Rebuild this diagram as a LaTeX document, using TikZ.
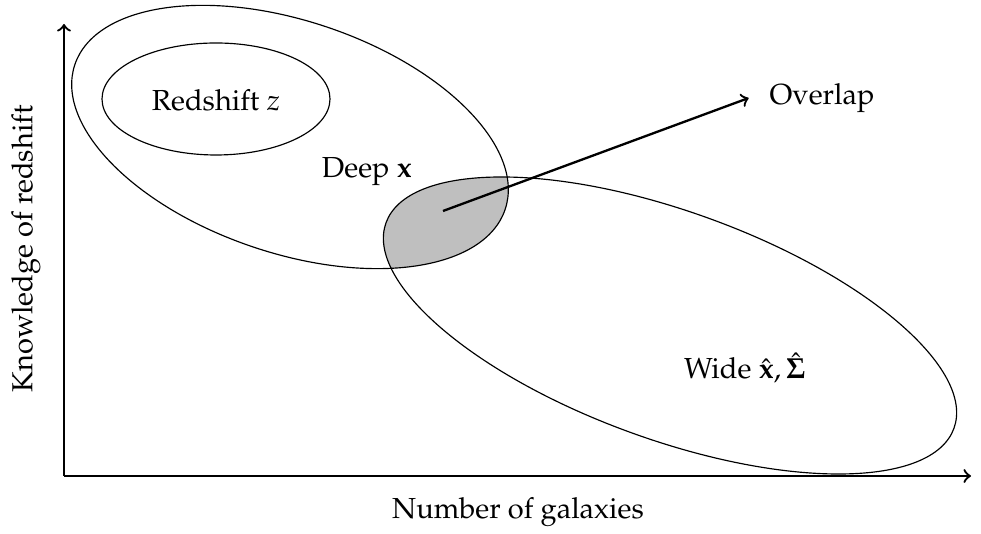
\documentclass[tikz,border=0pt]{standalone}
\usepackage{amsmath}
\usepackage[T1]{fontenc}
\usepackage{mathpazo}
\begin{document}
\begin{tikzpicture}[x=0.345pt,y=0.345pt,
  blob/.style={draw,line width=0.4pt},
  axis/.style={->,thick},
  lbl/.style={inner sep=0pt,font=\normalsize}]
\useasboundingbox (0,0) rectangle (981,534);
% overlap fill
\begin{scope}
  \clip[rotate around={-18.6:(290,397)}] (290,397) ellipse [x radius=227,y radius=116];
  \fill[gray!50,rotate around={-19.9:(670,208.5)}] (670,208.5) ellipse [x radius=302,y radius=114];
\end{scope}
% ellipses
\draw[blob] (216,435) ellipse [x radius=114,y radius=56];
\draw[blob,rotate around={-18.6:(290,397)}] (290,397) ellipse [x radius=227,y radius=116];
\draw[blob,rotate around={-19.9:(670,208.5)}] (670,208.5) ellipse [x radius=302,y radius=114];
% axes
\coordinate (O) at (64,58);
\coordinate (Ytop) at (64,510);
\coordinate (Xend) at (971,58);
\draw[axis] (O) -- (Ytop);
\draw[axis] (O) -- (Xend);
% labels
\node[lbl] (redshift) at (216,434) {Redshift $z$};
\node[lbl] (deep) at (367,362) {Deep $\mathbf{x}$};
\node[lbl] (wide) at (745,166) {Wide $\hat{\mathbf{x}}, \hat{\mathbf{\Sigma}}$};
\node[lbl,anchor=west] (overlap) at (769,436) {Overlap};
\node[lbl,rotate=90] (ylab) at (26,285) {Knowledge of redshift};
\node[lbl] (xlabel) at (518,22) {Number of galaxies};
\coordinate (ostart) at (443,323);
\draw[->,thick] (ostart) -- ([xshift=-7]overlap.west);
\end{tikzpicture}
\end{document}
